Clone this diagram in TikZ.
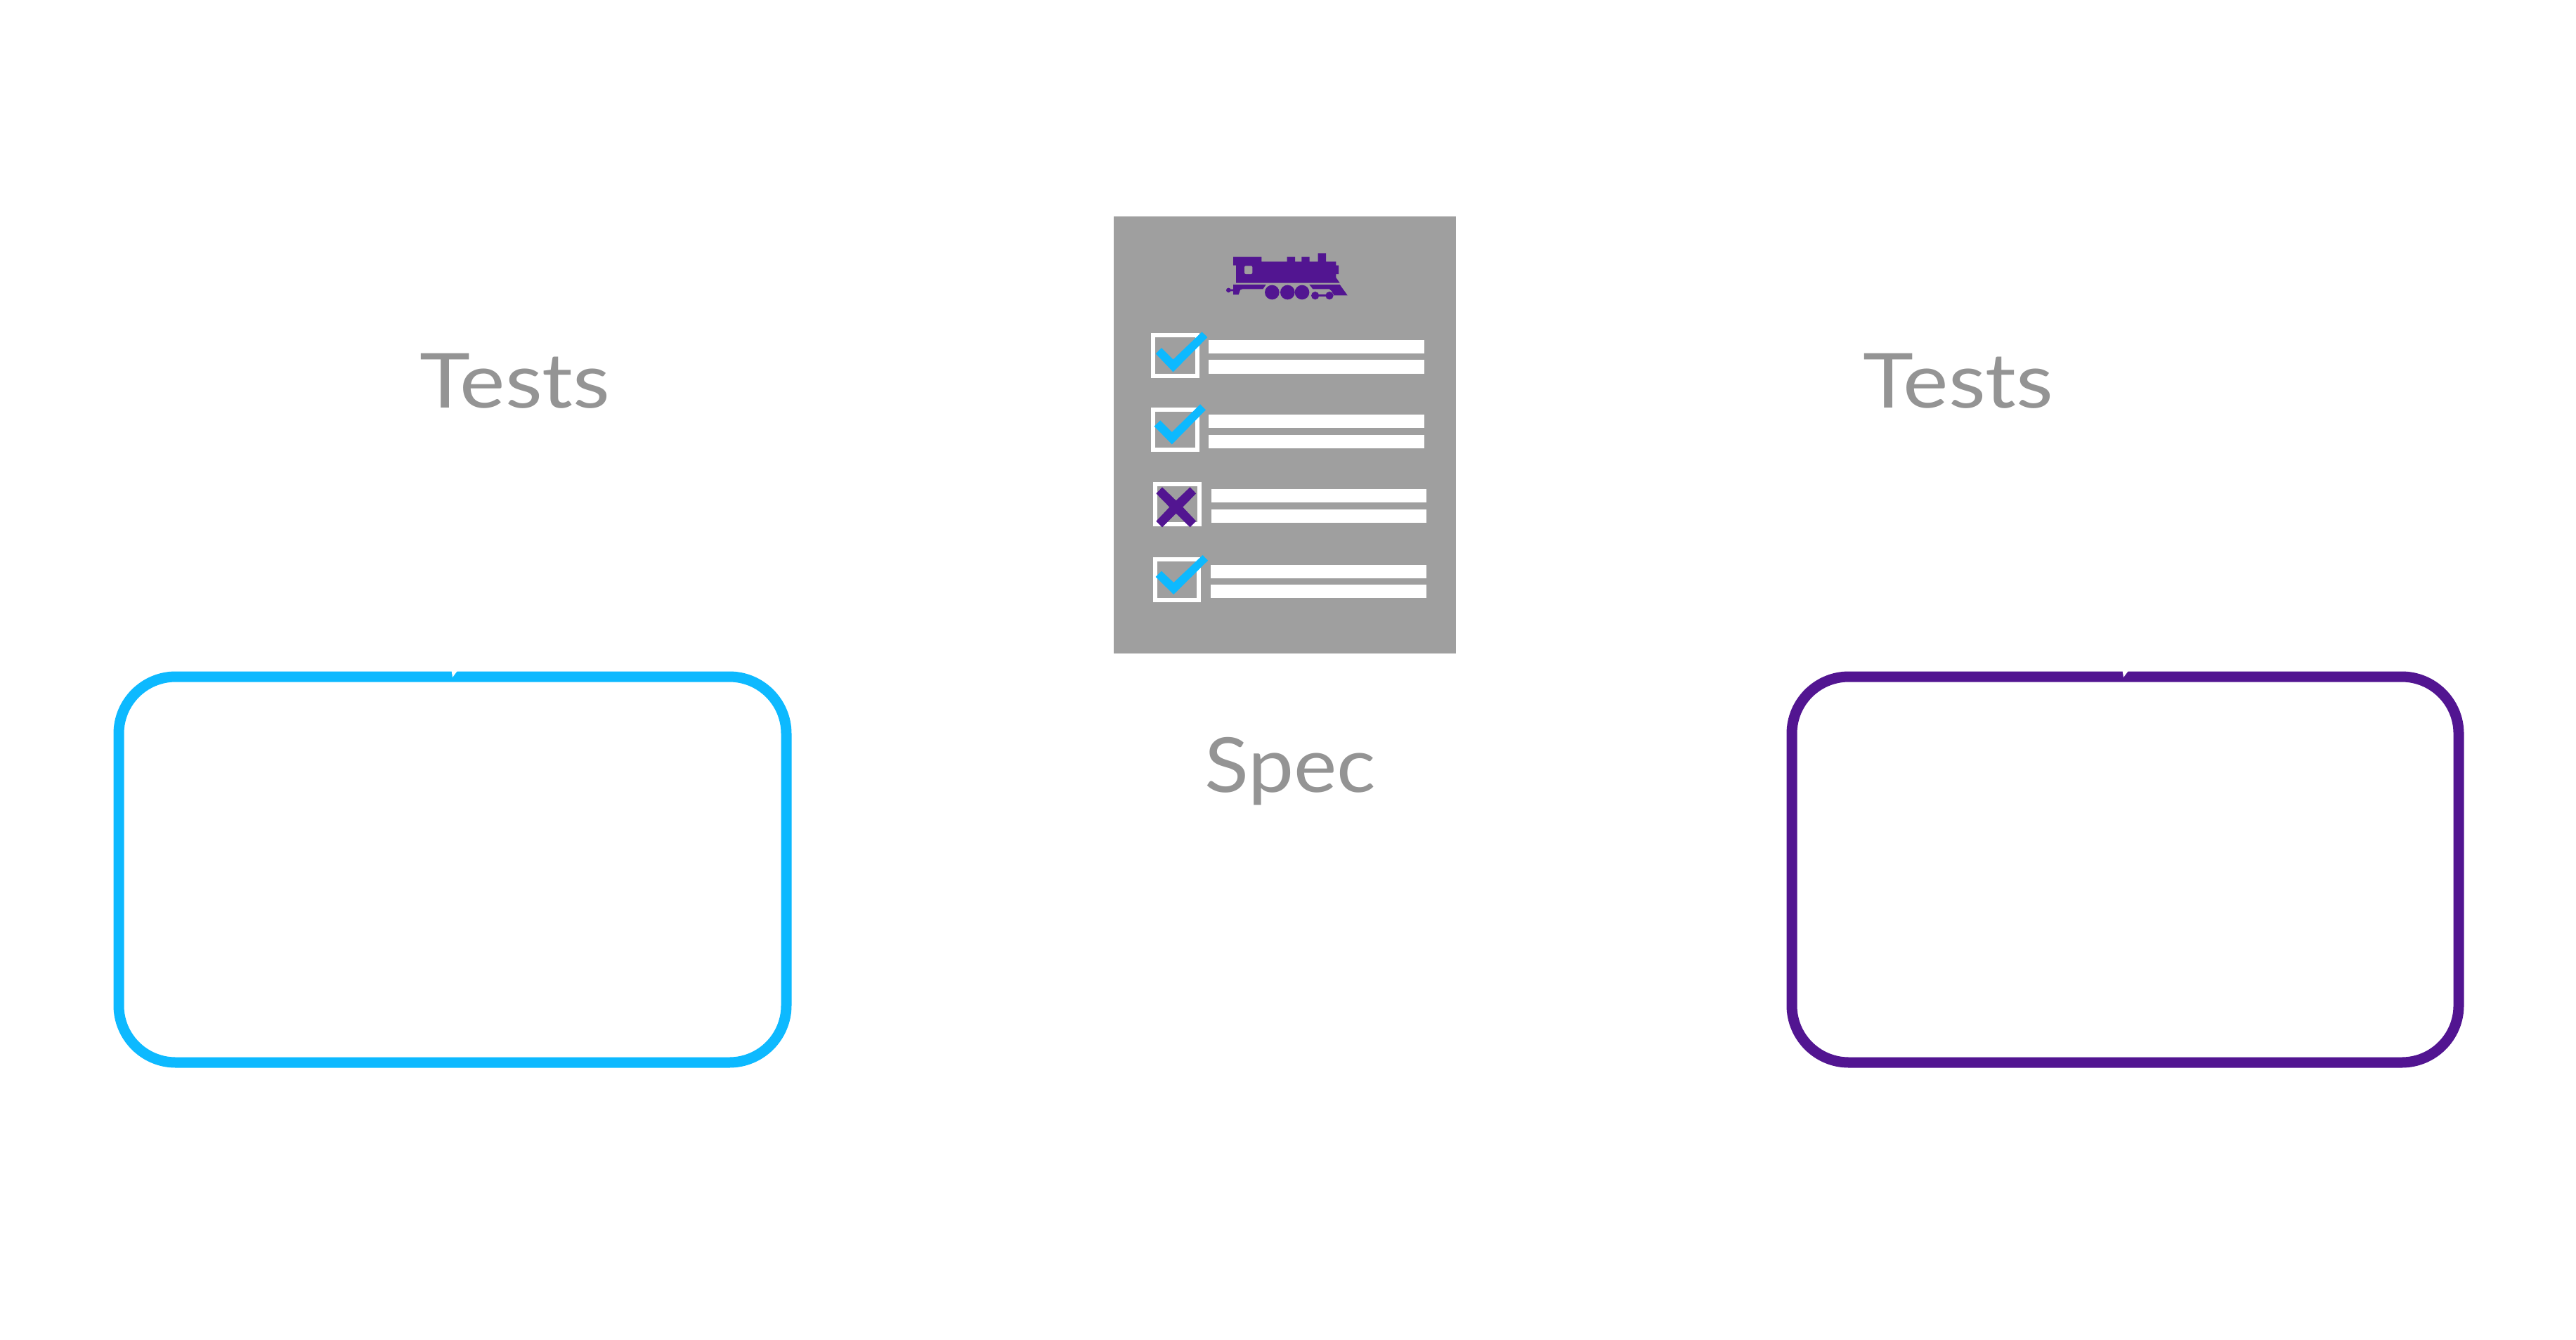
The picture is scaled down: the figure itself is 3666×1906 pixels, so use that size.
\documentclass[tikz,border=0pt]{standalone}
\usepackage{fontspec}
\usepackage{graphicx}
\setmainfont{Lato}
\definecolor{skyblue}{HTML}{0DB9FF}
\definecolor{deeppurple}{HTML}{521591}
\definecolor{sheetgray}{HTML}{9F9F9F}
\definecolor{labelgray}{HTML}{949494}
\tikzset{
  framebox/.style={draw=#1,line width=15pt,rectangle,rounded corners=81pt,minimum width=950pt,minimum height=549pt,inner sep=0pt},
  labeltext/.style={text=labelgray,inner sep=0pt,anchor=base west,font=\fontsize{108}{108}\selectfont},
  tick/.style={white,line width=6pt},
  zoomA/.style={x=0.34435pt,y=-0.33333pt},
}
\begin{document}
\begin{tikzpicture}[x=1pt,y=-1pt]
\useasboundingbox (0,0) rectangle (3666,1906);
\fill[white] (0,0) rectangle (3666,1906);
% frames
\node[framebox=skyblue] (leftframe) at (644,1237.5) {};
\node[framebox=deeppurple,minimum width=949pt] (rightframe) at (3024.5,1237.5) {};
\fill[white] (642.7,955) -- (650.7,955) -- (644,964) -- cycle;
\fill[white] (3020.7,955) -- (3028.7,955) -- (3022,964) -- cycle;
% labels
\node[labeltext] (testsleft) at (597,580) {\scalebox{1.13}[1]{Tests}};
\node[labeltext] (testsright) at (2651,580) {\scalebox{1.13}[1]{Tests}};
\node[labeltext] (spec) at (1714,1127) {\scalebox{1.075}[1]{Spec}};
% sheet
\fill[sheetgray] (1585,307.5) rectangle (2072,930);
% upper rows
\begin{scope}[shift={(1560,290)},zoomA]
  \draw[tick] (235,562) rectangle (418,734);
  \draw[tick] (235,880) rectangle (418,1051);
  \fill[white] (465,582) rectangle (1355,640);
  \fill[white] (465,667) rectangle (1355,725);
  \fill[white] (465,900) rectangle (1355,958);
  \fill[white] (465,986) rectangle (1355,1043);
  \fill[skyblue] (246,640) -- (270,615) -- (318,665) -- (437,547) -- (460,570) -- (318,718) -- cycle;
  \fill[skyblue] (240,950) -- (265,925) -- (313,975) -- (430,856) -- (453,880) -- (313,1027) -- cycle;
\end{scope}
% lower rows
\begin{scope}[shift={(1560,640)},zoomA]
  \draw[tick] (244,148) rectangle (427,319);
  \draw[tick] (244,469) rectangle (424,643);
  \fill[white] (477,168) rectangle (1365,226);
  \fill[white] (477,254) rectangle (1365,312);
  \fill[white] (473,492) rectangle (1365,548);
  \fill[white] (473,576) rectangle (1365,632);
  \fill[deeppurple] (248,187) -- (273,160) -- (330,217) -- (388,160) -- (413,187) -- (358,245) -- (413,305) -- (388,331) -- (330,272) -- (273,331) -- (248,305) -- (303,245) -- cycle;
  \fill[skyblue] (246,543) -- (270,518) -- (320,567) -- (440,450) -- (462,473) -- (320,618) -- cycle;
\end{scope}
% locomotive
\begin{scope}[shift={(1690,340)},x=0.33333pt,y=-0.33333pt]
  \fill[deeppurple] (195,77) -- (316,77) -- (316,97) -- (425,97) -- (425,77) -- (459,77) -- (459,97) -- (487,97) -- (487,77) -- (521,77) -- (521,97) -- (557,97) -- (557,61) -- (591,61) -- (591,97) -- (634,97) -- (634,113) -- (645,113) -- (645,150) -- (634,150) -- (634,165) -- (650,188) -- (207,188) -- (207,113) -- (195,113) -- cycle;
  \fill[sheetgray,rounded corners=2pt] (243,115) rectangle (277,150);
  \fill[deeppurple] (195,195) -- (335,195) -- (322,214) -- (235,214) -- (225,218) -- (218,238) -- (195,238) -- (195,223) -- (178,223) -- (178,215) -- (195,215) -- cycle;
  \fill[deeppurple] (175,219) circle[radius=10];
  \fill[deeppurple] (361,228) circle[radius=31];
  \fill[deeppurple] (427,228) circle[radius=31];
  \fill[deeppurple] (489,228) circle[radius=31];
  \fill[deeppurple] (545,242) circle[radius=17];
  \fill[deeppurple] (606,242) circle[radius=17];
  \fill[deeppurple] (545,238) rectangle (606,246);
  \fill[deeppurple] (520,195) -- (650,195) -- (683,241) -- (625,241) -- (615,222) -- (605,214) -- (535,214) -- cycle;
\end{scope}
\end{tikzpicture}
\end{document}
